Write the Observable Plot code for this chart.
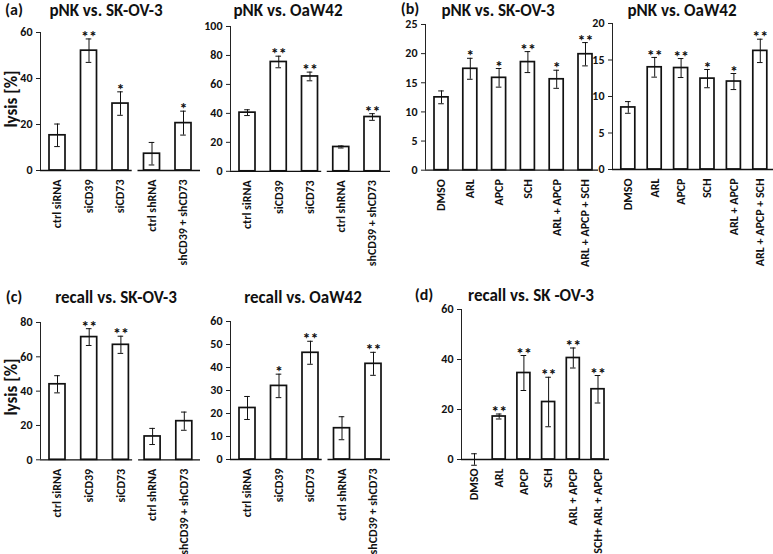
<!DOCTYPE html>
<html><head><meta charset="utf-8">
<script src="https://cdn.jsdelivr.net/npm/d3@7"></script>
<script src="https://cdn.jsdelivr.net/npm/@observablehq/plot@0.6"></script>
<style>
body{margin:0;background:#fff;}
#fig{position:relative;width:773px;height:554px;overflow:hidden;font-family:Carlito,Lato,"Open Sans",sans-serif;color:#111;background:#fff;}
.panel{position:absolute;}
.panel svg, svg.panel{overflow:visible;}
.panel text{font-weight:700;}
.t{position:absolute;transform:translate(-50%,-50%);font-weight:bold;white-space:nowrap;font-size:17px;}
.lab{position:absolute;transform:translate(-50%,-50%);font-weight:bold;white-space:nowrap;font-size:16px;line-height:1;}
.ylab{position:absolute;transform:translate(-50%,-50%) rotate(-90deg);font-weight:bold;white-space:nowrap;font-size:17px;}
</style></head>
<body><div id="fig"></div>
<script>
// ---- data ----
const siLabels = ["ctrl siRNA", "siCD39", "siCD73", "ctrl shRNA", "shCD39 + shCD73"];
const siGroups = [0, 0, 0, 1, 1];
const drugLabels = ["DMSO", "ARL", "APCP", "SCH", "ARL + APCP", "ARL + APCP + SCH"];
const drugGroups = [0, 0, 0, 0, 0, 0];
const recallDrugLabels = ["DMSO", "ARL", "APCP", "SCH", "ARL + APCP", "SCH+ ARL + APCP"];

const pnkSkovSiValues = [15.3, 52.1, 29.1, 7.3, 20.6];
const pnkSkovSiErrors = [4.9, 5.1, 5.1, 4.9, 5.2];
const pnkSkovSiStars = ["", "**", "*", "", "*"];
const pnkSkovSiTicks = [0, 20, 40, 60];

const pnkOawSiValues = [40.5, 75.5, 65.5, 16.8, 37.5];
const pnkOawSiErrors = [2.0, 4.0, 3.0, 0.7, 2.3];
const pnkOawSiStars = ["", "**", "**", "", "**"];
const pnkOawSiTicks = [0, 20, 40, 60, 80, 100];

const pnkSkovDrugValues = [12.5, 17.4, 15.85, 18.55, 15.6, 19.9];
const pnkSkovDrugErrors = [1.1, 1.8, 1.6, 1.8, 1.55, 2.0];
const pnkSkovDrugStars = ["", "*", "*", "**", "*", "**"];
const pnkSkovDrugTicks = [0, 5, 10, 15, 20, 25];

const pnkOawDrugValues = [8.5, 14.0, 13.9, 12.45, 12.05, 16.25];
const pnkOawDrugErrors = [0.8, 1.35, 1.3, 1.25, 1.1, 1.6];
const pnkOawDrugStars = ["", "**", "**", "*", "*", "**"];
const pnkOawDrugTicks = [0, 5, 10, 15, 20];

const recallSkovSiValues = [44.0, 71.5, 67.0, 13.6, 22.5];
const recallSkovSiErrors = [5.0, 4.9, 5.0, 4.7, 5.3];
const recallSkovSiStars = ["", "**", "**", "", ""];
const recallSkovSiTicks = [0, 20, 40, 60, 80];

const recallOawSiValues = [22.4, 32.0, 46.4, 13.6, 41.6];
const recallOawSiErrors = [5.0, 5.1, 5.0, 5.0, 5.0];
const recallOawSiStars = ["", "*", "**", "", "**"];
const recallOawSiTicks = [0, 10, 20, 30, 40, 50, 60];

const recallSkovDrugValues = [0, 17.2, 34.6, 23.0, 40.6, 28.1];
const recallSkovDrugErrors = [2.3, 1.0, 7.0, 9.9, 4.0, 5.5];
const recallSkovDrugStars = ["", "**", "**", "**", "**", "**"];
const recallSkovDrugTicks = [0, 20, 40, 60];

// ---- drawing ----
const fig = document.getElementById("fig");
const FONT = "Carlito, Lato, 'Open Sans', sans-serif";

function drawPanel(cfg) {
  const {labels, values, errors, stars, groups, ticks, x0, x1, c0, sp, yTop, yBase, barPx, mb} = cfg;
  const yMax = ticks[ticks.length - 1];
  const ML = 36, MR = 2, MT = 20, MB = mb;
  const d0 = (x0 - c0) / sp, d1 = (x1 - c0) / sp;
  const hw = barPx / 2 / sp, cap = 2.8 / sp;
  const rows = labels.map((label, i) => ({i, label, v: values[i], e: errors[i], s: stars[i], g: groups[i]}));
  const gids = Array.from(new Set(groups));
  const segments = gids.map((g, k) => {
    const idx = rows.filter(r => r.g === g).map(r => r.i);
    return {
      start: k === 0 ? d0 : d3.min(idx) - 14 / sp,
      end: k === gids.length - 1 ? d1 : d3.max(idx) + 11.7 / sp
    };
  });
  const chart = Plot.plot({
    width: ML + (x1 - x0) + MR,
    height: MT + (yBase - yTop) + MB,
    marginLeft: ML, marginRight: MR, marginTop: MT, marginBottom: MB,
    x: {type: "linear", domain: [d0, d1]},
    y: {domain: [0, yMax]},
    style: {fontFamily: FONT, fontSize: "12px", color: "#111", background: "transparent"},
    marks: [
      Plot.ruleX([d0], {y1: 0, y2: yMax, stroke: "#222", strokeWidth: 1}),
      Plot.rectY(rows, {x1: d => d.i - hw, x2: d => d.i + hw, y1: 0, y2: "v", fill: "white", stroke: "#111", strokeWidth: 1.7}),
      Plot.ruleY(segments, {y: 0, x1: "start", x2: "end", stroke: "#111", strokeWidth: 1.3}),
      Plot.ruleX(rows, {x: "i", y1: d => d.v - d.e, y2: d => d.v + d.e, stroke: "#111", strokeWidth: 1}),
      Plot.ruleY(rows, {y: d => d.v + d.e, x1: d => d.i - cap, x2: d => d.i + cap, stroke: "#111", strokeWidth: 1}),
      Plot.ruleY(rows, {y: d => d.v - d.e, x1: d => d.i - cap, x2: d => d.i + cap, stroke: "#111", strokeWidth: 1}),
      Plot.text(rows, {x: "i", y: d => d.v + d.e, text: "s", dy: -2, fontSize: 16, fontWeight: "bold", fill: "#111"}),
      Plot.axisY(ticks, {tickSize: 4, tickPadding: 4, fontSize: 12, fontWeight: "bold", label: null, stroke: "#222"}),
      Plot.axisX(rows.map(d => d.i), {tickFormat: i => labels[i], tickRotate: -90, tickSize: 0, tickPadding: 9, fontSize: 12, fontWeight: "bold", label: null})
    ]
  });
  chart.classList.add("panel");
  chart.style.left = (x0 - ML) + "px";
  chart.style.top = (yTop - MT) + "px";
  chart.style.position = "absolute";
  fig.appendChild(chart);
}

drawPanel({labels: siLabels, values: pnkSkovSiValues, errors: pnkSkovSiErrors, stars: pnkSkovSiStars, groups: siGroups, ticks: pnkSkovSiTicks,
  x0: 40, x1: 200, c0: 57, sp: 31.5, yTop: 32.3, yBase: 170.3, barPx: 16, mb: 105});
drawPanel({labels: siLabels, values: pnkOawSiValues, errors: pnkOawSiErrors, stars: pnkOawSiStars, groups: siGroups, ticks: pnkOawSiTicks,
  x0: 230, x1: 390, c0: 247, sp: 31.25, yTop: 25.5, yBase: 170.3, barPx: 16, mb: 105});
drawPanel({labels: drugLabels, values: pnkSkovDrugValues, errors: pnkSkovDrugErrors, stars: pnkSkovDrugStars, groups: drugGroups, ticks: pnkSkovDrugTicks,
  x0: 425, x1: 598, c0: 441, sp: 28.8, yTop: 24.3, yBase: 170, barPx: 14, mb: 105});
drawPanel({labels: drugLabels, values: pnkOawDrugValues, errors: pnkOawDrugErrors, stars: pnkOawDrugStars, groups: drugGroups, ticks: pnkOawDrugTicks,
  x0: 611.7, x1: 773, c0: 627.5, sp: 26.4, yTop: 23.3, yBase: 169.3, barPx: 14, mb: 105});
drawPanel({labels: siLabels, values: recallSkovSiValues, errors: recallSkovSiErrors, stars: recallSkovSiStars, groups: siGroups, ticks: recallSkovSiTicks,
  x0: 40, x1: 200, c0: 57, sp: 31.7, yTop: 321.7, yBase: 459, barPx: 16, mb: 95});
drawPanel({labels: siLabels, values: recallOawSiValues, errors: recallOawSiErrors, stars: recallOawSiStars, groups: siGroups, ticks: recallOawSiTicks,
  x0: 230, x1: 390, c0: 247, sp: 31.5, yTop: 320.7, yBase: 458.7, barPx: 16, mb: 95});
drawPanel({labels: recallDrugLabels, values: recallSkovDrugValues, errors: recallSkovDrugErrors, stars: recallSkovDrugStars, groups: drugGroups, ticks: recallSkovDrugTicks,
  x0: 461, x1: 609, c0: 474, sp: 24.7, yTop: 309.3, yBase: 459.3, barPx: 13, mb: 95});

// ---- titles ----
const texts = [
  ["lab", "(a)", 14, 10], ["t", "pNK vs. SK-OV-3", 106, 10], ["t", "pNK vs. OaW42", 288, 10],
  ["lab", "(b)", 410, 9], ["t", "pNK vs. SK-OV-3", 498, 10], ["t", "pNK vs. OaW42", 682, 10],
  ["lab", "(c)", 14, 297], ["t", "recall vs. SK-OV-3", 116, 297], ["t", "recall vs. OaW42", 303, 297],
  ["lab", "(d)", 424, 295], ["t", "recall vs. SK -OV-3", 531, 295],
  ["ylab", "lysis [%]", 11, 99], ["ylab", "lysis [%]", 11, 387]
];
for (const [cls, txt, x, y] of texts) {
  const el = document.createElement("div");
  el.className = cls; el.textContent = txt;
  el.style.left = x + "px"; el.style.top = y + "px";
  fig.appendChild(el);
}
</script></body></html>
